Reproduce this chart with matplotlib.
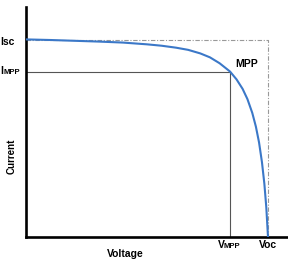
import matplotlib
matplotlib.use('Agg')
import matplotlib.pyplot as plt

# ── I-V curve, normalised (V / Voc, I / Isc) ────────────────────────────────
voltage = [0.000, 0.100, 0.200, 0.300, 0.400, 0.500, 0.560, 0.620, 0.670,
           0.720, 0.760, 0.800, 0.843, 0.870, 0.895, 0.915, 0.935, 0.950,
           0.963, 0.975, 0.985, 0.993, 1.000]
current = [1.003, 1.000, 0.996, 0.992, 0.987, 0.978, 0.971, 0.961, 0.950,
           0.932, 0.912, 0.882, 0.840, 0.800, 0.752, 0.700, 0.630, 0.560,
           0.480, 0.380, 0.270, 0.150, 0.000]
v_mpp, i_mpp = 0.843, 0.840
v_oc, i_sc = 1.000, 1.000

W, H = 288, 260
fig = plt.figure(figsize=(W / 100, H / 100), dpi=100)
x0, y0 = 26, 237          # axis corner, in pixels
ax = fig.add_axes([x0 / W, (H - y0) / H, (W - x0) / W, (y0 - 7) / H])
ax.set_xlim(0, (W - x0) / 242)
ax.set_ylim(0, (y0 - 7) / 197)

ax.plot(voltage, current, color='#3b78c8', lw=1.5, zorder=3,
        solid_joinstyle='round')
ax.plot([0, v_mpp, v_mpp], [i_mpp, i_mpp, 0], color='#555555', lw=0.8, zorder=2)
ax.plot([0, v_oc, v_oc], [i_sc, i_sc, 0], color='#999999', lw=0.8,
        ls=(0, (4, 1.5, 1, 1.5)), zorder=1)

for s in ['top', 'right']:
    ax.spines[s].set_visible(False)
for s in ['left', 'bottom']:
    ax.spines[s].set_linewidth(1.9)
ax.set_xticks([])
ax.set_yticks([])

font = dict(family=['Liberation Sans', 'DejaVu Sans'], fontweight='bold',
            color='black')


def ptext(x, y, s, size, **kw):
    fig.text(x / W, 1 - y / H, s, fontsize=size, **font, **kw)


ptext(0, 42, 'Isc', 7.5, va='center')
ptext(0, 71, 'I', 7.5, va='center')
ptext(4, 72, 'MPP', 5.5, va='center')
ptext(235, 64, 'MPP', 7.5, va='center')
ptext(218, 245, 'V', 7.5, va='center')
ptext(224, 246, 'MPP', 5.5, va='center')
ptext(268, 245, 'Voc', 7.5, va='center', ha='center')
ptext(125, 254, 'Voltage', 7.5, va='center', ha='center')
ptext(12, 156, 'Current', 7, va='center', ha='center', rotation=90)

fig.savefig('out.png', dpi=100)
